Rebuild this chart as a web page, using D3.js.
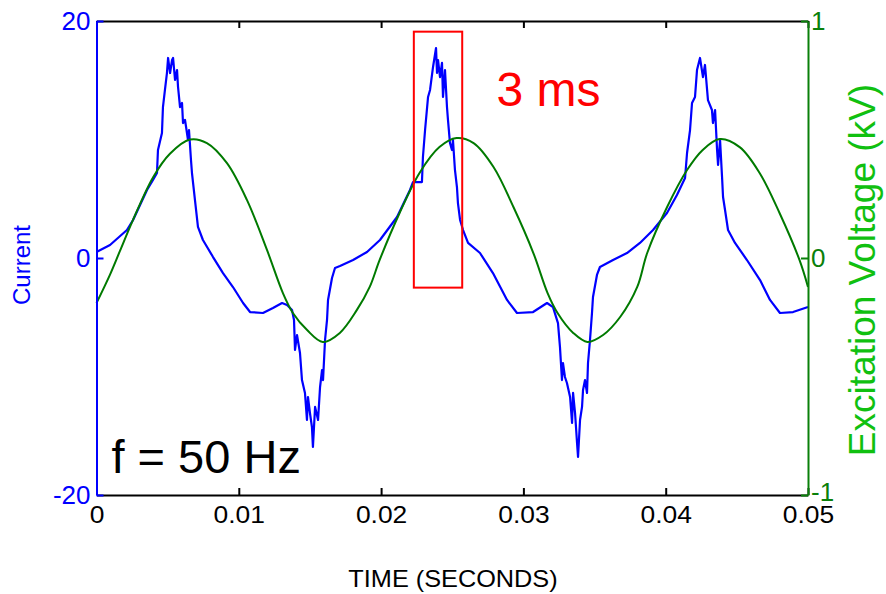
<!DOCTYPE html>
<html>
<head>
<meta charset="utf-8">
<script src="https://cdn.jsdelivr.net/npm/d3@7"></script>
<style>
  body { margin: 0; background: #fff; }
  svg { display: block; font-family: "Liberation Sans", Arial, sans-serif; }
</style>
</head>
<body>
<svg id="chart" width="886" height="594"></svg>
<script>
// ** current / excitation voltage trace, f = 50 Hz **

// current trace [time (s), current]
const currentTrace = [
  [0, 0.51], [0.00095, 1.10], [0.00214, 2.36], [0.00257, 3.21], [0.00306, 4.47],
  [0.00355, 5.74], [0.00397, 6.58], [0.00425, 7.17], [0.00432, 9.11], [0.0046, 10.55],
  [0.00467, 12.74], [0.00481, 14.18], [0.00495, 15.61], [0.00503, 16.88], [0.00517, 15.61],
  [0.00531, 16.71], [0.00538, 16.88], [0.00552, 15.02], [0.00566, 15.86], [0.00573, 14.43],
  [0.00587, 12.74], [0.00601, 13.08], [0.00608, 11.39], [0.00622, 11.65], [0.00643, 9.96],
  [0.0065, 10.8], [0.00664, 8.27], [0.00671, 7.17], [0.00692, 4.89], [0.00713, 2.62],
  [0.00748, 1.52], [0.00819, 0.08], [0.00889, -1.27], [0.00959, -2.45], [0.0103, -3.8],
  [0.01079, -4.56], [0.0117, -4.64], [0.0124, -4.22], [0.01304, -3.8], [0.01339, -3.97],
  [0.01374, -4.39], [0.01388, -5.23], [0.01395, -7.76], [0.01409, -6.5], [0.0143, -8.02],
  [0.01444, -10.3], [0.01465, -11.39], [0.01479, -13.67], [0.01486, -11.73], [0.015, -13.08],
  [0.01514, -14.26], [0.01521, -15.95], [0.01536, -12.57], [0.01557, -13.67], [0.01571, -10.89],
  [0.01585, -9.45], [0.01592, -10.3], [0.01606, -6.92], [0.0162, -5.23], [0.01627, -3.54],
  [0.01655, -1.69], [0.01676, -0.84], [0.01711, -0.68], [0.01803, -0.17], [0.01901, 0.51],
  [0.01992, 1.52], [0.02112, 3.46], [0.02203, 5.74], [0.02224, 6.41], [0.02287, 6.41],
  [0.02294, 8.52], [0.02309, 10.8], [0.0233, 13.59], [0.02344, 14.18], [0.02365, 16.12],
  [0.02386, 17.72], [0.02393, 15.61], [0.024, 16.71], [0.02414, 15.27], [0.02428, 16.46],
  [0.02435, 13.59], [0.02449, 15.86], [0.02463, 12.74], [0.0247, 11.65], [0.02484, 9.7],
  [0.02498, 9.11], [0.02505, 9.96], [0.02519, 7.43], [0.02533, 5.99], [0.0254, 4.64],
  [0.02555, 3.21], [0.02576, 2.36], [0.02611, 1.27], [0.02695, 0.42], [0.02786, -1.27],
  [0.02885, -3.54], [0.02955, -4.64], [0.03068, -4.56], [0.03166, -3.8], [0.03208, -4.14],
  [0.03243, -5.49], [0.03257, -7.51], [0.03271, -10.3], [0.03278, -8.86], [0.03292, -10.04],
  [0.03306, -10.55], [0.03328, -11.73], [0.03342, -13.92], [0.03349, -11.39], [0.03363, -13.08],
  [0.03377, -15.61], [0.03384, -16.79], [0.03398, -13.67], [0.03412, -12.57], [0.03419, -11.14],
  [0.03433, -10.3], [0.03447, -11.39], [0.03454, -8.86], [0.03468, -6.92], [0.03482, -4.64],
  [0.03489, -3.29], [0.03517, -1.43], [0.03538, -0.76], [0.0363, -0.17], [0.03728, 0.42],
  [0.03819, 1.27], [0.03911, 2.36], [0.04009, 3.8], [0.04079, 5.32], [0.04136, 6.75],
  [0.0415, 8.86], [0.04171, 10.8], [0.04185, 13.08], [0.04206, 13.59], [0.0422, 15.86],
  [0.04241, 16.88], [0.04262, 15.27], [0.04276, 16.29], [0.04297, 13.33], [0.04325, 12.49],
  [0.04332, 11.39], [0.04347, 12.49], [0.04361, 9.11], [0.04368, 7.85], [0.04382, 9.96],
  [0.04396, 6.84], [0.04403, 5.15], [0.04417, 4.05], [0.04438, 2.36], [0.04487, 1.27],
  [0.04571, -0.17], [0.04663, -1.86], [0.04733, -3.54], [0.04803, -4.64], [0.04895, -4.56],
  [0.05, -4.14]
];

// excitation voltage [time (s), kV]
const voltageTrace = [
  [0, -0.19], [0.00095, -0.07], [0.00165, 0.03], [0.00256, 0.16], [0.00397, 0.34],
  [0.00516, 0.44], [0.00657, 0.5], [0.00776, 0.485], [0.00917, 0.4], [0.01057, 0.245],
  [0.01198, 0.034], [0.0131, -0.148], [0.0138, -0.232], [0.0148, -0.304], [0.0159, -0.354],
  [0.0171, -0.316], [0.0183, -0.219], [0.0192, -0.122], [0.0199, -0.008], [0.0213, 0.19],
  [0.0227, 0.359], [0.0241, 0.468], [0.0253, 0.506], [0.0265, 0.485], [0.0279, 0.384],
  [0.0293, 0.215], [0.0307, 0.021], [0.0317, -0.148], [0.0324, -0.232], [0.0335, -0.316],
  [0.0345, -0.354], [0.0356, -0.325], [0.0368, -0.249], [0.038, -0.122], [0.0387, 0.021],
  [0.0401, 0.215], [0.0415, 0.371], [0.0426, 0.456], [0.0438, 0.502], [0.0452, 0.468],
  [0.0466, 0.359], [0.048, 0.19], [0.0494, -0.008], [0.05, -0.122]
];

// axis ticks
const timeTicks = [0, 0.01, 0.02, 0.03, 0.04, 0.05];
const timeTickLabels = ["0", "0.01", "0.02", "0.03", "0.04", "0.05"];
const currentTicks = [-20, 0, 20];
const voltageTicks = [-1, 0, 1];

// the 3 ms window around the second current peak
const windowTime = [0.0223, 0.0257];
const windowCurrent = [-2.5, 19.1];

const margin = { top: 21, right: 78, bottom: 99, left: 96.5 };
const svg = d3.select("#chart");
const width = +svg.attr("width") - margin.left - margin.right;
const height = +svg.attr("height") - margin.top - margin.bottom;

const x = d3.scaleLinear().domain([0, 0.05]).range([0, width]);
const yCur = d3.scaleLinear().domain([-20, 20]).range([height, 0]);
const yVolt = d3.scaleLinear().domain([-1, 1]).range([height, 0]);

const g = svg.append("g")
  .attr("transform", `translate(${margin.left},${margin.top})`);

// traces (voltage drawn on top)
g.append("path")
  .datum(currentTrace)
  .attr("fill", "none")
  .attr("stroke", "#0000ff")
  .attr("stroke-width", 2.2)
  .attr("stroke-linejoin", "round")
  .attr("d", d3.line().x(d => x(d[0])).y(d => yCur(d[1])));

g.append("path")
  .datum(voltageTrace)
  .attr("fill", "none")
  .attr("stroke", "#007a00")
  .attr("stroke-width", 2)
  .attr("d", d3.line().curve(d3.curveCatmullRom).x(d => x(d[0])).y(d => yVolt(d[1])));

// red window + label
g.append("rect")
  .attr("x", x(windowTime[0]))
  .attr("y", yCur(windowCurrent[1]))
  .attr("width", x(windowTime[1]) - x(windowTime[0]))
  .attr("height", yCur(windowCurrent[0]) - yCur(windowCurrent[1]))
  .attr("fill", "none")
  .attr("stroke", "#ff0000")
  .attr("stroke-width", 2);

g.append("text")
  .attr("x", 400)
  .attr("y", 85)
  .attr("fill", "#ff0000")
  .style("font-size", "48px")
  .text("3 ms");

g.append("text")
  .attr("x", 15)
  .attr("y", 452)
  .attr("fill", "#000")
  .style("font-size", "47px")
  .text("f = 50 Hz");

// axes
function styleAxis(sel, color) {
  sel.select(".domain").attr("stroke", color).attr("stroke-width", 2);
  sel.selectAll(".tick line").attr("stroke", color).attr("stroke-width", 2);
  sel.selectAll(".tick text").attr("fill", color);
}

g.append("g")
  .call(d3.axisTop(x).tickValues(timeTicks).tickSize(-7).tickSizeOuter(0).tickFormat(""))
  .call(s => styleAxis(s, "#000"));

const xAxis = g.append("g")
  .attr("transform", `translate(0,${height})`)
  .call(d3.axisBottom(x).tickValues(timeTicks).tickSize(-7).tickSizeOuter(0)
    .tickPadding(11).tickFormat((d, i) => timeTickLabels[i]))
  .call(s => styleAxis(s, "#000"));
xAxis.selectAll(".tick text")
  .style("font-size", "24px")
  .attr("transform", "scale(1.1,1)");

g.append("g")
  .call(d3.axisLeft(yCur).tickValues(currentTicks).tickSize(-7).tickSizeOuter(0)
    .tickPadding(6).tickFormat(d => String(d)))
  .call(s => styleAxis(s, "#0000ff"))
  .selectAll(".tick text").style("font-size", "26px");

g.append("g")
  .attr("transform", `translate(${width},0)`)
  .call(d3.axisRight(yVolt).tickValues(voltageTicks).tickSize(-7).tickSizeOuter(0)
    .tickPadding(3).tickFormat(d => String(d)))
  .call(s => styleAxis(s, "#0a800a"))
  .selectAll(".tick text").style("font-size", "26px")
  .attr("dy", d => d === -1 ? "0.2em" : "0.32em");

// axis titles
svg.append("text")
  .attr("transform", "translate(453,587) scale(1.1,1)")
  .attr("text-anchor", "middle")
  .style("font-size", "23px")
  .text("TIME (SECONDS)");

svg.append("text")
  .attr("transform", "translate(30,265) rotate(-90)")
  .attr("text-anchor", "middle")
  .attr("fill", "#0000ff")
  .style("font-size", "24px")
  .text("Current");

svg.append("text")
  .attr("transform", "translate(875,270) rotate(-90)")
  .attr("text-anchor", "middle")
  .attr("fill", "#10c010")
  .style("font-size", "37px")
  .text("Excitation Voltage (kV)");
</script>
</body>
</html>
